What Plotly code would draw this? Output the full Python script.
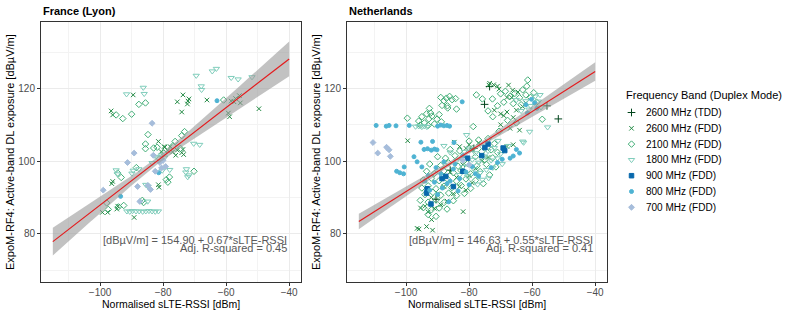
import numpy as np
import plotly.graph_objects as go

# ---------------- data ----------------
bands = ["2600 MHz (TDD)", "2600 MHz (FDD)", "2100 MHz (FDD)", "1800 MHz (FDD)",
         "900 MHz (FDD)", "800 MHz (FDD)", "700 MHz (FDD)"]
countries = ["France (Lyon)", "Netherlands"]

fr_2600tdd = []
fr_2600fdd = [(-89.5,118.2),(-96.5,113.8),(-96.0,112.7),(-73.7,118.2),(-75.5,116.3),(-72.1,116.5),(-72.3,115.7),
              (-71.8,117.1),(-74.1,113.5),(-66.1,116.8),(-58.4,116.5),(-57.5,116.3),(-57.0,117.2),(-55.8,118.0),
              (-55.5,116.0),(-59.3,113.2),(-58.9,112.2),(-49.6,114.4),(-81.5,105.4),(-79.7,104.0),(-80.6,102.6),
              (-77.8,104.0),(-74.1,102.3),(-73.5,101.8),(-99.3,85.9),(-97.6,85.9),(-94.4,87.6),(-89.2,84.5),
              (-96.3,93.8),(-96.0,94.4),(-81.5,93.5),(-81.3,92.8),(-79.5,103.8),(-73.7,103.2),(-94.7,86.8),
              (-75.5,103.0),(-77.0,102.5),(-78.5,102.9),(-76.0,101.6)]
fr_2100fdd = [(-94.9,112.7),(-92.8,111.7),(-90.0,112.9),(-87.7,115.6),(-85.6,116.0),(-84.8,107.3),(-85.6,104.7),
              (-85.6,103.4),(-81.9,103.8),(-73.2,108.1),(-74.1,107.0),(-60.8,116.8),(-94.4,96.7),(-93.3,95.5),
              (-86.6,89.2),(-86.2,88.6),(-97.9,88.5),(-94.2,87.4),(-79.0,94.9),(-78.5,94.2),(-83.0,103.6),
              (-76.9,104.2),(-76.2,105.4),(-70.2,97.2),(-97.4,86.7),(-92.5,87.8),(-78.0,95.6),(-79.8,102.2),
              (-74.5,103.5),(-88.5,98.2)]
fr_1800fdd = [(-91.6,118.4),(-86.3,120.2),(-86.0,118.5),(-69.5,123.5),(-64.4,124.7),(-63.1,125.4),(-58.4,122.9),
              (-56.2,122.5),(-67.9,120.6),(-67.8,119.6),(-51.8,123.1),(-68.4,104.5),(-70.3,104.8),(-72.6,97.8),
              (-71.8,96.1),(-77.9,97.6),(-91.5,86.2),(-90.6,86.1),(-89.7,86.3),(-88.6,86.2),(-87.6,86.2),
              (-86.5,86.1),(-85.5,86.2),(-84.5,86.3),(-83.5,86.2),(-82.5,86.1),(-81.5,86.2),(-84.9,88.9),
              (-94.9,97.5),(-94.5,96.4),(-89.5,97.4),(-87.7,97.8),(-89.9,96.6),(-85.5,93.5),(-84.8,93.0),
              (-80.3,97.4),(-72.8,96.9),(-72.2,95.6),(-81.5,100.8),(-80.5,101.6),(-82.3,101.2),(-79.5,101.0),
              (-83.5,99.5)]
fr_900fdd = []
fr_800fdd = [(-62.9,116.6),(-81.4,96.8),(-93.5,90.3)]
fr_700fdd = [(-83.5,110.4),(-89.2,102.2),(-83.1,101.6),(-91.3,99.6),(-99.0,92.0),(-84.8,93.3),(-84.0,92.2),
             (-87.4,88.9),(-88.1,93.0),(-79.2,98.5),(-80.5,98.1),(-81.0,99.6),(-80.0,100.2),(-82.5,97.2)]

nl_2600tdd = [(-75.1,115.6),(-55.3,115.2),(-51.7,111.6),(-78.5,103.5),(-86.0,97.5),(-90.5,89.5),(-73.5,120.5)]
nl_2600fdd = [(-73.5,121.4),(-72.2,121.0),(-71.0,120.6),(-67.5,120.9),(-66.2,119.5),(-70.5,119.8),(-64.5,119.0),
              (-68.0,117.5),(-73.7,120.9),(-66.5,117.5),(-72.0,114.0),(-70.0,113.0),(-69.0,112.5),(-68.0,113.5),
              (-66.0,112.0),(-65.0,114.0),(-63.0,115.0),(-62.0,116.0),(-70.0,110.0),(-67.0,109.0),(-64.0,108.5),
              (-66.0,104.5),(-68.0,104.0),(-99.5,105.6),(-84.7,105.2),(-83.0,104.0),(-81.0,103.5),(-80.0,104.5),
              (-79.0,103.0),(-77.0,105.0),(-86.0,97.0),(-84.0,95.5),(-82.0,99.0),(-80.0,96.0),(-78.0,98.0),
              (-76.0,100.0),(-74.0,101.0),(-88.0,93.0),(-90.0,91.0),(-92.0,90.0),(-89.0,88.0),(-91.0,87.0),
              (-93.0,86.0),(-87.0,89.0),(-85.0,91.0),(-83.0,93.0),(-81.0,92.0),(-79.0,94.0),(-96.5,81.5),
              (-95.9,81.3),(-93.5,82.0),(-91.6,81.0),(-81.9,86.1),(-94.0,87.6),(-95.4,87.1),(-91.9,83.9)]
nl_2100fdd = [(-89.0,117.5),(-88.0,116.6),(-87.2,117.3),(-86.2,117.8),(-85.4,116.9),(-84.3,117.2),(-88.6,115.3),
              (-86.8,114.6),(-84.0,114.3),(-92.6,114.5),(-92.2,113.2),(-86.9,115.2),(-99.6,111.8),(-96.0,111.0),
              (-95.0,112.2),(-94.2,110.5),(-93.5,113.0),(-92.8,111.6),(-91.8,112.4),(-91.0,110.2),(-90.2,111.5),
              (-89.5,112.8),(-88.8,110.8),(-93.0,109.8),(-95.5,109.9),(-77.7,118.2),(-75.8,117.1),(-72.6,117.1),
              (-61.4,122.3),(-61.7,120.6),(-70.0,118.5),(-68.5,119.2),(-67.0,117.8),(-65.5,118.6),(-64.0,117.4),
              (-63.0,119.6),(-62.0,118.2),(-60.5,117.5),(-59.5,118.8),(-66.0,115.8),(-69.0,116.2),(-71.0,115.2),
              (-63.5,115.5),(-58.6,116.2),(-56.8,111.5),(-78.7,109.5),(-74.0,113.8),(-72.5,112.2),(-67.8,111.2),
              (-65.0,110.5),(-70.5,108.2),
              (-80.0,105.5),(-77.0,105.8),(-74.0,106.2),(-72.0,104.8),
              (-86.0,103.2),(-83.0,102.8),(-79.0,103.4),(-76.0,102.6),(-73.0,103.1),(-71.0,102.4),
              (-90.0,101.2),(-87.5,100.8),(-84.5,101.5),(-82.0,100.6),(-78.0,101.2),(-75.0,100.4),(-72.5,100.9),
              (-92.5,99.2),(-89.0,98.8),(-86.5,99.5),(-83.5,98.6),(-80.5,99.3),(-77.5,98.7),(-74.5,99.1),(-71.5,98.4),
              (-93.5,97.2),(-91.0,96.6),(-88.0,97.3),(-85.0,96.8),(-82.5,97.4),(-79.5,96.5),(-76.5,97.1),(-73.5,96.2),
              (-94.5,94.8),(-92.0,95.3),(-89.5,94.6),(-87.0,95.2),(-84.0,94.5),(-81.0,95.1),(-78.0,94.7),(-75.5,93.8),
              (-95.0,92.6),(-93.0,93.2),(-90.5,92.4),(-88.0,93.1),(-85.5,92.7),(-82.5,93.3),(-79.5,92.5),
              (-94.0,90.8),(-91.5,91.4),(-89.0,90.6),(-86.5,91.2),(-84.0,90.5),(-81.5,91.1),
              (-95.5,89.2),(-93.0,88.7),(-90.5,89.3),(-88.0,88.6),(-85.0,89.1),
              (-94.5,87.2),(-92.0,86.6),(-89.5,87.1),(-87.0,86.8),(-93.0,85.3),(-90.5,84.8)]
nl_1800fdd = [(-97.0,109.5),(-96.0,109.6),(-95.0,109.4),(-94.2,109.6),(-93.4,109.4),(-80.8,107.2),(-60.8,108.1),
              (-63.0,105.4),(-55.1,109.3),(-62.7,105.1),(-62.0,116.5),(-60.5,115.2),(-59.0,117.8),(-58.0,116.4),
              (-57.2,114.8),(-61.0,114.2),(-63.5,113.8),(-65.0,116.8),(-57.5,118.2),(-80.0,103.5),(-78.0,102.2),
              (-76.0,104.1),(-74.0,102.8),(-72.0,103.6),(-70.0,102.0),(-79.0,100.4),(-77.0,99.6),(-75.0,101.3),
              (-73.0,100.2),(-71.0,100.8),(-78.5,97.8),(-76.5,96.8),(-74.5,97.6),(-72.5,98.2),(-80.5,95.8),
              (-82.0,98.4),(-84.0,100.1),(-83.0,96.2),(-75.8,94.9),(-77.3,93.6),(-73.8,95.3),(-86.0,102.4),
              (-88.0,104.2),(-81.5,102.6),(-69.5,99.2),(-67.5,104.2),(-70.8,105.6)]
nl_900fdd = [(-74.0,104.7),(-68.7,102.9),(-69.2,103.6),(-75.0,103.7),(-87.4,95.8),(-93.5,91.2),(-93.3,92.4),
             (-92.1,88.2),(-88.6,95.2),(-82.0,97.2),(-80.5,100.8),(-85.0,93.0),(-76.0,101.5)]
nl_800fdd = [(-109.5,109.8),(-106.3,109.6),(-105.4,109.8),(-103.2,109.7),(-99.0,109.8),(-90.0,109.6),(-89.0,109.9),
             (-88.0,109.7),(-87.0,109.8),(-86.2,109.6),(-95.3,105.2),(-91.6,105.4),(-84.8,105.1),(-94.3,103.2),
             (-93.2,103.4),(-92.0,103.0),(-91.0,103.3),(-90.2,103.1),(-82.2,116.3),(-103.0,97.2),(-102.0,96.8),
             (-100.8,96.5),(-100.6,98.4),(-62.0,115.5),(-60.2,117.0),(-59.2,116.0),(-58.5,114.5),(-61.5,113.2),
             (-65.0,103.2),(-64.0,102.2),(-66.0,101.4),(-67.0,100.8),(-69.5,100.5),(-71.0,99.6),(-73.0,98.2),
             (-93.0,96.0),(-91.0,94.2),(-89.0,96.5),(-87.0,93.8),(-85.0,97.8),(-83.0,95.2),(-81.0,97.0),
             (-79.0,98.5),(-77.0,95.8),(-92.5,92.0),(-90.0,90.8),(-88.5,92.6),(-86.0,94.5),(-84.5,99.2),
             (-82.0,101.5),(-80.0,93.5),(-78.0,96.5),(-88.0,99.8),(-90.5,98.2),(-94.0,94.5),(-86.5,88.8),
             (-83.5,91.8),(-96.5,99.8),(-97.5,101.2),(-95.0,98.4)]
nl_700fdd = [(-110.5,105.1),(-109.0,102.2),(-106.2,103.8),(-105.4,103.1),(-105.0,101.3),(-82.0,100.2),(-80.0,99.0)]

# regression results shown in the chart
fit_intercept = [154.90, 146.63]
fit_slope = [0.67, 0.55]
fit_r2 = [0.45, 0.41]
fit_xrange = [-115, -40]
# confidence band parameters (centre x, half-width at centre, growth per dBm)
ci_xmean = [-82.0, -81.0]
ci_h0 = [1.0, 0.5]
ci_b = [0.111, 0.061]

x_ticks = [-100, -80, -60, -40]
y_ticks = [80, 100, 120]
legend_title = "Frequency Band (Duplex Mode)"

# ---------------- styling ----------------
colors = ["#00441b", "#238b45", "#41ae76", "#7fcdbb", "#0868ac", "#4eb3d3", "#a6bddb"]
symbols = ["cross-thin", "x-thin", "diamond-open", "triangle-down-open", "square", "circle", "diamond"]
sizes = [5.5, 4.5, 5, 5.5, 4.5, 4, 4.5]

data = [[fr_2600tdd, fr_2600fdd, fr_2100fdd, fr_1800fdd, fr_900fdd, fr_800fdd, fr_700fdd],
        [nl_2600tdd, nl_2600fdd, nl_2100fdd, nl_1800fdd, nl_900fdd, nl_800fdd, nl_700fdd]]

W, H = 787, 315
panels_x = [(41, 301), (347, 607)]
panel_y = (22, 282)
FONT = "Liberation Sans, Arial, sans-serif"

fig = go.Figure()

for ci in range(2):
    xa = "x" if ci == 0 else "x2"
    ya = "y" if ci == 0 else "y2"
    for bi in range(len(bands)):
        pts = data[ci][bi]
        fig.add_trace(go.Scatter(
            x=[p[0] for p in pts], y=[p[1] for p in pts], mode="markers",
            name=bands[bi], showlegend=False, xaxis=xa, yaxis=ya,
            marker=dict(symbol=symbols[bi], color=colors[bi], size=sizes[bi],
                        line=dict(color=colors[bi], width=1))))
    xs = np.arange(fit_xrange[0], fit_xrange[1] + 0.01, 0.5)
    yfit = fit_intercept[ci] + fit_slope[ci] * xs
    half = np.sqrt(ci_h0[ci] ** 2 + (ci_b[ci] * (xs - ci_xmean[ci])) ** 2)
    fig.add_trace(go.Scatter(x=np.concatenate([xs, xs[::-1]]),
                             y=np.concatenate([yfit + half, (yfit - half)[::-1]]),
                             fill="toself", fillcolor="rgba(153,153,153,0.6)", line=dict(width=0),
                             mode="lines", showlegend=False, xaxis=xa, yaxis=ya, hoverinfo="skip"))
    fig.add_trace(go.Scatter(x=xs, y=yfit, mode="lines", line=dict(color="#E41A1C", width=1.2),
                             showlegend=False, xaxis=xa, yaxis=ya))

# legend keys drawn on an overlay axis measured in pixels
leg_x_key, leg_x_text, leg_y0, leg_dy = 631.5, 644, 112.5, 15.8
for bi in range(len(bands)):
    fig.add_trace(go.Scatter(x=[leg_x_key], y=[leg_y0 + bi * leg_dy], mode="markers", showlegend=False,
                             xaxis="x3", yaxis="y3", cliponaxis=False, hoverinfo="skip",
                             marker=dict(symbol=symbols[bi], color=colors[bi], size=sizes[bi],
                                         line=dict(color=colors[bi], width=1))))

axis_common = dict(showline=True, mirror=True, linecolor="#333333", linewidth=1,
                   ticks="outside", ticklen=3, tickcolor="#333333", tickwidth=1,
                   gridcolor="#EBEBEB", gridwidth=1, zeroline=False, automargin=False,
                   tickfont=dict(family=FONT, size=10, color="#4D4D4D"))

layout = dict(width=W, height=H, margin=dict(l=0, r=0, t=0, b=0, autoexpand=False),
              paper_bgcolor="white", plot_bgcolor="rgba(0,0,0,0)", showlegend=False,
              font=dict(family=FONT, color="#000000"))
for ci in range(2):
    sfx = "" if ci == 0 else "2"
    x0, x1 = panels_x[ci]
    layout["xaxis" + sfx] = dict(axis_common, domain=[x0 / W, x1 / W], range=[-118.75, -36.25],
                                 tickvals=x_ticks, anchor="y" + sfx, ticklabelstandoff=-2,
                                 minor=dict(showgrid=True, gridcolor="#F3F3F3", gridwidth=0.6,
                                            tick0=-110, dtick=20, ticks=""))
    layout["yaxis" + sfx] = dict(axis_common, domain=[1 - panel_y[1] / H, 1 - panel_y[0] / H],
                                 range=[66.75, 138.25], tickvals=y_ticks, anchor="x" + sfx,
                                 minor=dict(showgrid=True, gridcolor="#F3F3F3", gridwidth=0.6,
                                            tick0=70, dtick=20, ticks=""))
layout["xaxis3"] = dict(domain=[0, 1], range=[0, W], visible=False, anchor="y3", automargin=False)
layout["yaxis3"] = dict(domain=[0, 1], range=[H, 0], visible=False, anchor="x3", automargin=False)
fig.update_layout(**layout)

ann = []
for ci in range(2):
    x0, x1 = panels_x[ci]
    xr = "x" if ci == 0 else "x2"
    yr = "y" if ci == 0 else "y2"
    ann.append(dict(text="<b>" + countries[ci] + "</b>", x=x0 / W, y=1 - 11 / H, xref="paper", yref="paper",
                    xanchor="left", yanchor="middle", showarrow=False, font=dict(family=FONT, size=11)))
    ann.append(dict(text="Normalised sLTE-RSSI [dBm]", x=(x0 + x1) / 2 / W, y=1 - 303.5 / H,
                    xref="paper", yref="paper", xanchor="center", yanchor="middle", showarrow=False,
                    font=dict(family=FONT, size=10.5)))
    ann.append(dict(text="ExpoM-RF4: Active-band DL exposure [dBµV/m]", x=(x0 - 31) / W, y=1 - 152 / H,
                    xref="paper", yref="paper", xanchor="center", yanchor="middle", showarrow=False,
                    textangle=-90, font=dict(family=FONT, size=11)))
    ann.append(dict(text="[dBµV/m] = %.2f + %.2f*sLTE-RSSI" % (fit_intercept[ci], fit_slope[ci]),
                    x=-40, y=78.3, xref=xr, yref=yr, xanchor="right", yanchor="middle", showarrow=False,
                    font=dict(family=FONT, size=11, color="#595959")))
    ann.append(dict(text="Adj. R-squared = %.2f" % fit_r2[ci],
                    x=-40, y=76.2, xref=xr, yref=yr, xanchor="right", yanchor="middle", showarrow=False,
                    font=dict(family=FONT, size=11, color="#595959")))
ann.append(dict(text=legend_title, x=624, y=95, xref="x3", yref="y3", xanchor="left", yanchor="middle",
                showarrow=False, font=dict(family=FONT, size=11)))
for bi in range(len(bands)):
    ann.append(dict(text=bands[bi], x=leg_x_text, y=leg_y0 + bi * leg_dy, xref="x3", yref="y3",
                    xanchor="left", yanchor="middle", showarrow=False, font=dict(family=FONT, size=10)))
fig.update_layout(annotations=ann)

fig.write_html("out.html", config={"displayModeBar": False},
               post_script="document.body.style.margin='0';document.body.style.overflow='hidden';")
